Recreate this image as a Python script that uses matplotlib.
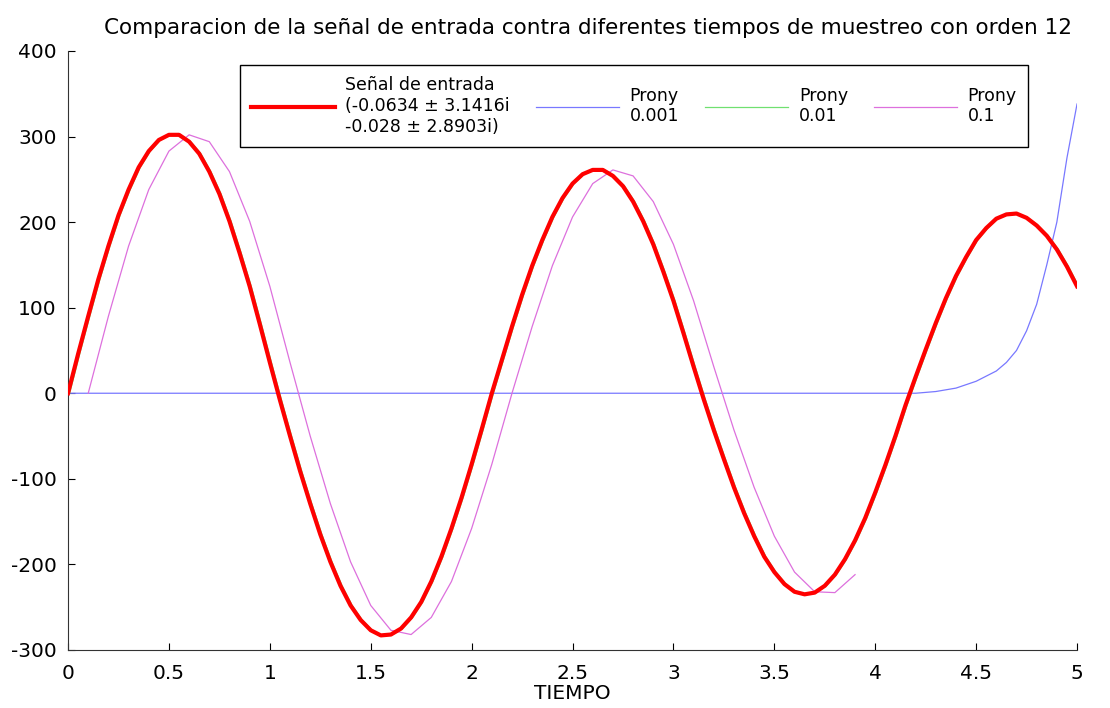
import numpy as np
import matplotlib
matplotlib.use('Agg')
import matplotlib.pyplot as plt

plt.rcParams['font.family'] = ['DejaVu Sans']
plt.rcParams['axes.unicode_minus'] = False

# Señal de entrada, leida cada 0.05 s
t_senal = np.arange(0, 5.0001, 0.05)
senal = [0, 46, 90, 133, 172, 208, 238, 264, 283, 296,
         302, 302, 294, 280, 259, 233, 201, 164, 125, 81,
         36, -8, -50, -91, -129, -165, -197, -225, -248, -265,
         -277, -283, -282, -275, -262, -244, -220, -191, -158, -122,
         -83, -42, 0, 39, 78, 115, 149, 179, 206, 228,
         245, 256, 261, 261, 254, 242, 224, 201, 174, 142,
         108, 70, 31, -7, -43, -77, -110, -140, -167, -191,
         -209, -223, -232, -235, -233, -225, -212, -194, -172, -146,
         -116, -84, -50, -14, 19, 51, 82, 111, 137, 159,
         179, 193, 204, 209, 210, 205, 196, 184, 168, 148,
         125]

# Prony 0.001 (azul)
t_p0001 = [0, 4.2, 4.3, 4.4, 4.5, 4.6, 4.65, 4.7, 4.75, 4.8, 4.85, 4.9, 4.95, 5.0]
p0001 = [0, 0, 2, 6, 14, 26, 36, 50, 73, 104, 150, 200, 275, 338]

# Prony 0.01 (verde), casi igual a la entrada
p001 = senal

# Prony 0.1 (magenta)
t_p01 = np.arange(0.1, 3.9001, 0.1)
p01 = [0, 90, 172, 238, 283, 302, 294, 259, 201, 125,
       36, -50, -129, -197, -248, -277, -282, -262, -220, -158,
       -83, 0, 78, 149, 206, 245, 261, 254, 224, 174,
       108, 31, -43, -110, -167, -209, -232, -233, -212]

fig = plt.figure(figsize=(11.1, 7.08), dpi=100)
ax = fig.add_axes([0.0613, 0.082, 0.909, 0.846])

ax.plot(t_senal, senal, color='red', lw=3.0,
        label='Señal de entrada\n(-0.0634 ± 3.1416i\n-0.028 ± 2.8903i)', zorder=3)
ax.plot(t_p0001, p0001, color='#7878ff', lw=0.9, label='Prony\n0.001', zorder=2)
ax.plot(t_senal + 0.008, p001, color='#70e070', lw=0.9, label='Prony\n0.01', zorder=2)
ax.plot(t_p01, p01, color='#dd70dd', lw=0.9, label='Prony\n0.1', zorder=2)

ax.set_xlim(0, 5)
ax.set_ylim(-300, 400)
ax.set_xticks(np.arange(0, 5.01, 0.5))
ax.set_xticklabels(['0', '0.5', '1', '1.5', '2', '2.5', '3', '3.5', '4', '4.5', '5'])
ax.set_yticks(range(-300, 401, 100))
ax.spines['top'].set_visible(False)
ax.spines['right'].set_visible(False)
ax.spines['left'].set_color('#333333')
ax.spines['bottom'].set_color('#333333')
ax.tick_params(direction='in', length=5, labelsize=14.5)
ax.tick_params(axis='x', pad=10)
ax.tick_params(axis='y', pad=8)

ax.set_title('Comparacion de la señal de entrada contra diferentes tiempos de muestreo con orden 12',
             fontsize=15.5, pad=12, x=0.515)
ax.set_xlabel('TIEMPO', fontsize=14.5, labelpad=1)

leg = ax.legend(loc='upper left', bbox_to_anchor=(0.1705, 0.9766), borderaxespad=0,
                ncol=4, fontsize=12.5, handlelength=4.8, handletextpad=0.6,
                columnspacing=1.5, fancybox=False, framealpha=1,
                edgecolor='black', borderpad=0.65)
leg.get_frame().set_linewidth(1.0)

fig.savefig('out.png', dpi=100)
